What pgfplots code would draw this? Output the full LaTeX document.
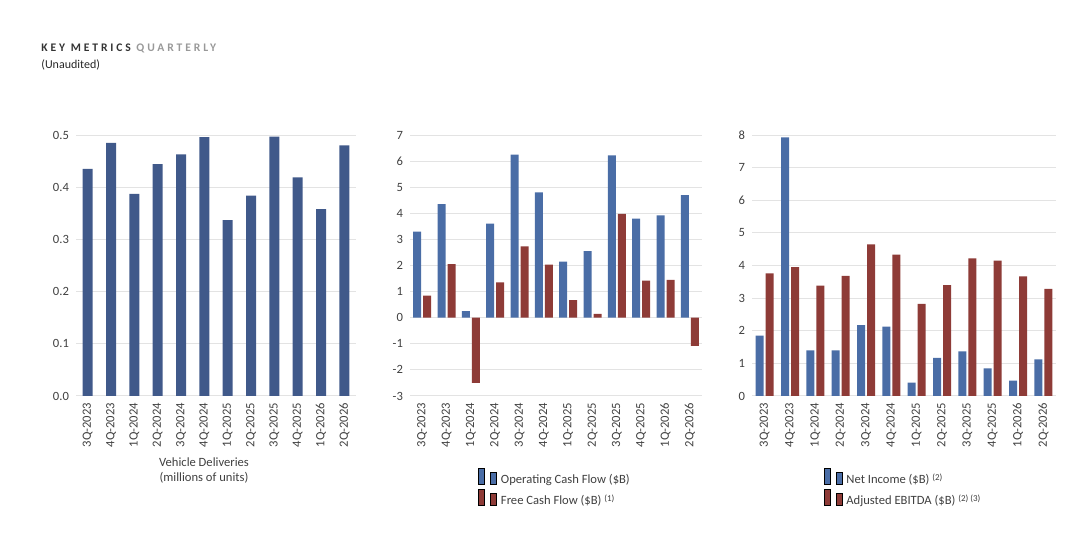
\documentclass[border=0pt]{standalone}
\usepackage{pgfplots}
\pgfplotsset{compat=1.18}
\usepackage{fontspec}
\setmainfont{Carlito}
\definecolor{navy}{HTML}{40598A}
\definecolor{bl}{HTML}{4A6DA6}
\definecolor{rd}{HTML}{8E3B37}
\definecolor{tx}{HTML}{404040}
\pgfplotsset{
  base/.style={scale only axis, anchor=south west, xmin=-0.5, xmax=11.5,
    xtick={0,...,11},
    xticklabels={3Q-2023,4Q-2023,1Q-2024,2Q-2024,3Q-2024,4Q-2024,1Q-2025,2Q-2025,3Q-2025,4Q-2025,1Q-2026,2Q-2026},
    x tick label style={rotate=90, anchor=east, font=\fontsize{6.3}{7}\selectfont, text=tx},
    y tick label style={font=\fontsize{6.3}{7}\selectfont, text=tx},
    /pgf/number format/assume math mode=true,
    axis line style={draw=none}, major tick length=0pt,
    ymajorgrids, major grid style={gray!22, line width=0.5pt},
    height=130.5pt, enlarge y limits=false,
    legend style={draw=none, at={(0.5,-0.26)}, anchor=north, font=\fontsize{6.3}{7}\selectfont, text=tx, legend cell align=left, row sep=-1pt},
    legend image code/.code={\fill[#1] (0pt,-2pt) rectangle (4pt,2pt);},
  }
}
\begin{document}
\begin{tikzpicture}[x=1pt,y=1pt]
\useasboundingbox (0pt,0pt) rectangle (540pt,274.5pt);
\node[anchor=west, inner sep=0pt, font=\bfseries\fontsize{5.8}{7}\selectfont, text=black!80] at (20.5pt,250.5pt) {\addfontfeatures{LetterSpace=25}KEY METRICS \textcolor{gray!80}{QUARTERLY}};
\node[anchor=west, inner sep=0pt, font=\fontsize{6}{7}\selectfont, text=black!85] at (20.5pt,242pt) {(Unaudited)};

\begin{axis}[base, at={(38pt,76.5pt)}, width=140pt, ymin=0, ymax=0.5, ytick={0,0.1,...,0.5},
  yticklabels={0.0,0.1,0.2,0.3,0.4,0.5}]
\addplot[ybar, bar width=5pt, fill=navy, draw=none] coordinates {(0,0.435)(1,0.485)(2,0.387)(3,0.444)(4,0.463)(5,0.496)(6,0.337)(7,0.384)(8,0.497)(9,0.419)(10,0.358)(11,0.480)};
\end{axis}
\node[align=center, font=\fontsize{6.3}{7.5}\selectfont, text=tx] at (102pt,39pt) {Vehicle Deliveries\\(millions of units)};

\begin{axis}[base, at={(205pt,76.5pt)}, width=146pt, ymin=-3, ymax=7, ytick={-3,...,7}, ybar=1pt, bar width=4pt]
\addplot[fill=bl, draw=none] coordinates {(0,3.3)(1,4.35)(2,0.25)(3,3.6)(4,6.25)(5,4.8)(6,2.15)(7,2.55)(8,6.22)(9,3.8)(10,3.92)(11,4.7)};
\addplot[fill=rd, draw=none] coordinates {(0,0.85)(1,2.05)(2,-2.5)(3,1.35)(4,2.73)(5,2.03)(6,0.67)(7,0.15)(8,3.98)(9,1.42)(10,1.45)(11,-1.08)};
\legend{Operating Cash Flow (\$B), Free Cash Flow (\$B) {\fontsize{4.5}{5}\selectfont\raisebox{1.5pt}{(1)}}}
\end{axis}

\begin{axis}[base, at={(376pt,76.5pt)}, width=152pt, ymin=0, ymax=8, ytick={0,...,8}, ybar=1pt, bar width=4pt]
\addplot[fill=bl, draw=none] coordinates {(0,1.85)(1,7.93)(2,1.4)(3,1.4)(4,2.17)(5,2.13)(6,0.41)(7,1.17)(8,1.37)(9,0.85)(10,0.47)(11,1.12)};
\addplot[fill=rd, draw=none] coordinates {(0,3.76)(1,3.95)(2,3.38)(3,3.68)(4,4.65)(5,4.33)(6,2.82)(7,3.40)(8,4.22)(9,4.15)(10,3.67)(11,3.28)};
\legend{Net Income (\$B) {\fontsize{4.5}{5}\selectfont\raisebox{1.5pt}{(2)}}, Adjusted EBITDA (\$B) {\fontsize{4.5}{5}\selectfont\raisebox{1.5pt}{(2) (3)}}}
\end{axis}
\end{tikzpicture}
\end{document}
